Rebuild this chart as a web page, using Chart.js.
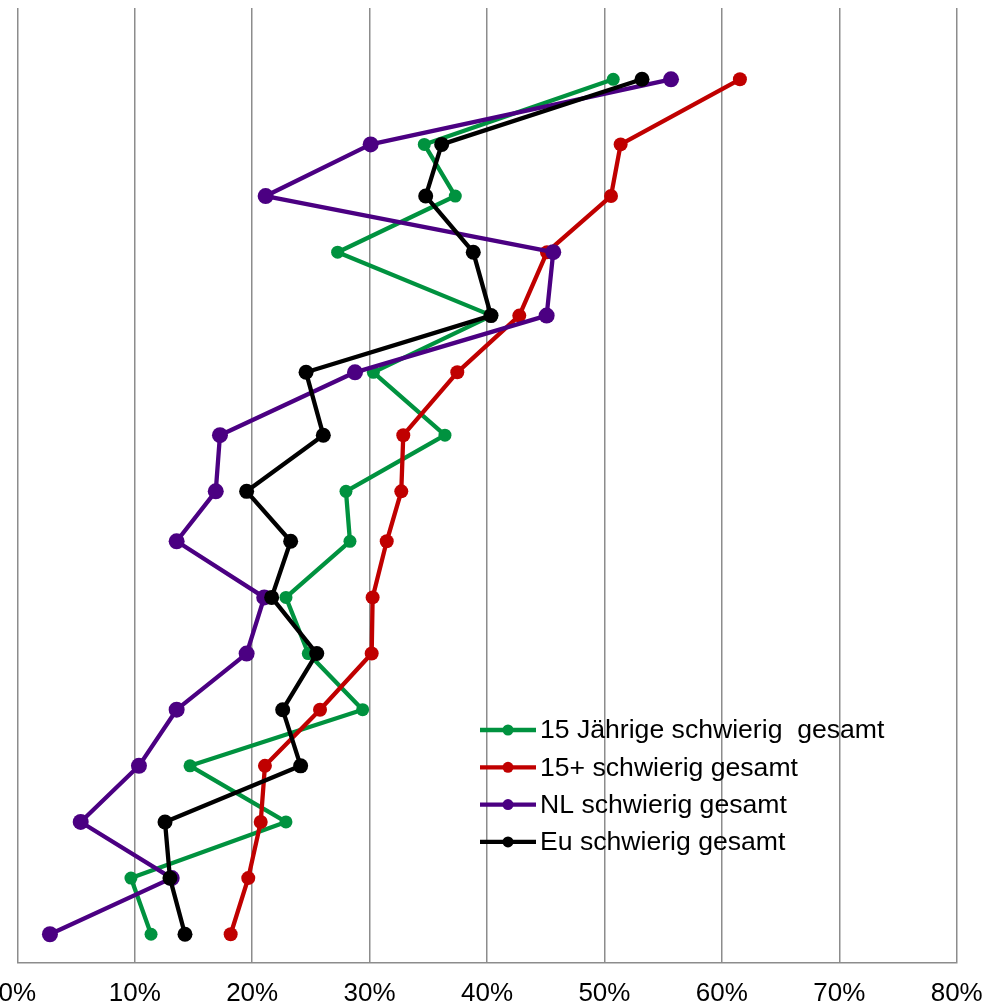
<!DOCTYPE html>
<html>
<head>
<meta charset="utf-8">
<script src="https://cdn.jsdelivr.net/npm/chart.js@4.4.1/dist/chart.umd.min.js"></script>
<style>
  html, body { margin: 0; padding: 0; background: #ffffff; }
  #wrap { position: relative; width: 986px; height: 1006px; }
</style>
</head>
<body>
<div id="wrap"><canvas id="chart"></canvas></div>
<script>
// Share of respondents finding each item difficult (percent), items top to bottom
const seriesNames = [
  '15 Jährige schwierig  gesamt',
  '15+ schwierig gesamt',
  'NL schwierig gesamt',
  'Eu schwierig gesamt'
];
const fifteenYear = [50.75, 34.66, 37.30, 27.28, 40.4, 30.32, 36.42, 27.99, 28.33, 22.88, 24.78, 29.41, 14.71, 22.88, 9.68, 11.39];
const fifteenPlus = [61.54, 51.38, 50.56, 45.11, 42.75, 37.47, 32.87, 32.70, 31.46, 30.26, 30.18, 25.78, 21.09, 20.73, 19.67, 18.17];
const netherlands = [55.67, 30.09, 21.15, 45.64, 45.08, 28.76, 17.26, 16.90, 13.57, 21.03, 19.53, 13.57, 10.36, 5.40, 13.15, 2.78];
const europe = [53.20, 36.14, 34.78, 38.83, 40.34, 24.59, 26.06, 19.53, 23.28, 21.66, 25.50, 22.60, 24.13, 12.58, 13.00, 14.28];
// item value on the (unlabelled) vertical axis
const itemY = [15.73, 14.57, 13.65, 12.65, 11.52, 10.51, 9.39, 8.39, 7.50, 6.50, 5.50, 4.50, 3.50, 2.50, 1.50, 0.50];
// horizontal axis ticks (percent)
const xTicks = [0, 10, 20, 30, 40, 50, 60, 70, 80];

const colors = ['#00923f', '#c00000', '#4b0082', '#000000'];
const radii = [6.5, 7, 8, 7.5];
const values = [fifteenYear, fifteenPlus, netherlands, europe];

const toPoints = arr => arr.map((v, i) => ({ x: v, y: itemY[i] }));

const datasets = values.map((arr, k) => ({
  label: seriesNames[k],
  data: toPoints(arr),
  showLine: true,
  borderColor: colors[k],
  backgroundColor: colors[k],
  borderWidth: 4.3,
  borderJoinStyle: 'round',
  borderCapStyle: 'round',
  pointRadius: radii[k],
  pointBorderWidth: 0,
  pointHoverRadius: radii[k],
  order: values.length - k,   // later series drawn on top
  clip: false
}));

// legend drawn inside the plot: short line with a dot, then the series name
const lineLegend = {
  id: 'lineLegend',
  afterDatasetsDraw(chart, args, opts) {
    const ctx = chart.ctx;
    ctx.save();
    ctx.font = opts.font;
    ctx.textBaseline = 'middle';
    ctx.textAlign = 'left';
    chart.data.datasets.forEach((ds, i) => {
      const y = opts.y + i * opts.rowGap;
      ctx.strokeStyle = ds.borderColor;
      ctx.lineWidth = opts.lineWidth;
      ctx.lineCap = 'butt';
      ctx.beginPath();
      ctx.moveTo(opts.x, y);
      ctx.lineTo(opts.x + opts.lineLen, y);
      ctx.stroke();
      ctx.fillStyle = ds.borderColor;
      ctx.beginPath();
      ctx.arc(opts.x + opts.lineLen / 2, y, opts.dot, 0, Math.PI * 2);
      ctx.fill();
      ctx.fillStyle = '#000000';
      ctx.fillText(ds.label, opts.x + opts.lineLen + opts.gap, y + 1);
    });
    ctx.restore();
  }
};

new Chart(document.getElementById('chart'), {
  type: 'scatter',
  data: { datasets },
  plugins: [lineLegend],
  options: {
    responsive: true,
    maintainAspectRatio: false,
    animation: false,
    events: [],
    layout: { padding: { top: 7, left: 0, right: 0, bottom: 0 } },
    plugins: {
      legend: { display: false },
      tooltip: { enabled: false },
      lineLegend: {
        x: 480, y: 730, rowGap: 37.3, lineLen: 56, gap: 4,
        dot: 5.5, lineWidth: 4.3,
        font: '26.6px "Liberation Sans", Arial, sans-serif'
      }
    },
    scales: {
      x: {
        type: 'linear',
        min: xTicks[0],
        max: xTicks[xTicks.length - 1],
        afterBuildTicks: scale => { scale.ticks = xTicks.map(v => ({ value: v })); },
        afterFit: scale => {
          scale.paddingLeft = 17.3;
          scale.paddingRight = 29.3;
          scale.height = 43.7;
        },
        grid: { color: '#8c8c8c', lineWidth: 1.5, drawTicks: false },
        border: { display: true, color: '#8c8c8c', width: 1.5 },
        ticks: {
          padding: 16,
          color: '#000000',
          font: { family: '"Liberation Sans", Arial, sans-serif', size: 26 },
          maxRotation: 0,
          autoSkip: false,
          callback: v => v + '%'
        }
      },
      y: {
        type: 'linear',
        display: false,
        min: 0,
        max: 17
      }
    }
  }
});
</script>
</body>
</html>
